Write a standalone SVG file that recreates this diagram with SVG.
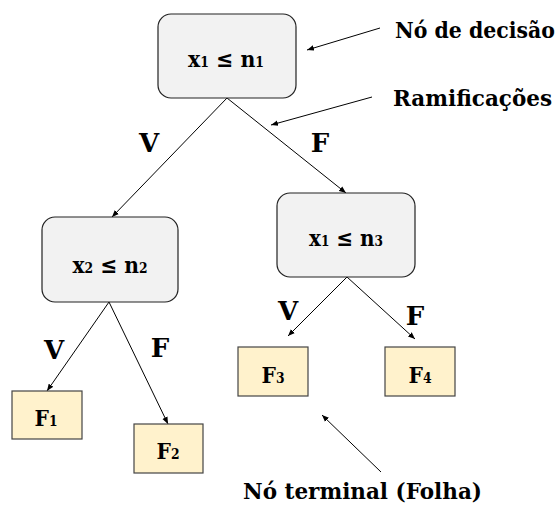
<svg xmlns="http://www.w3.org/2000/svg" width="560" height="511" viewBox="0 0 560 511">
<style>
text{font-family:"DejaVu Serif",serif;font-weight:bold;fill:#000}
.dec{fill:#f2f2f2;stroke:#222;stroke-width:1.2}
.leaf{fill:#fff2cc;stroke:#444;stroke-width:1.2}
.lab{font-size:26px;text-anchor:middle}
.nt{font-size:23px;text-anchor:middle}
.big{font-size:23px}
.sub{font-size:14px}
.edge{stroke:#000;stroke-width:1;fill:none;marker-end:url(#ah)}
</style>
<defs>
<marker id="ah" viewBox="0 0 10 10" refX="10" refY="5" markerWidth="7" markerHeight="7" orient="auto" markerUnits="userSpaceOnUse">
<path d="M0,1 L10,5 L0,9 z" fill="#000"/>
</marker>
</defs>
<rect width="560" height="511" fill="#fff"/>
<g id="connectors">
<line class="edge" x1="227" y1="98" x2="112" y2="217"/>
<line class="edge" x1="227" y1="98" x2="346" y2="193"/>
<line class="edge" x1="109" y1="302" x2="47" y2="391"/>
<line class="edge" x1="109" y1="302" x2="168" y2="424"/>
<line class="edge" x1="347" y1="277" x2="288" y2="336"/>
<line class="edge" x1="347" y1="277" x2="415" y2="339"/>
<line class="edge" x1="380" y1="28" x2="307" y2="50"/>
<line class="edge" x1="372" y1="97" x2="271" y2="125"/>
<line class="edge" x1="381" y1="472" x2="322" y2="415"/>
</g>
<g id="labels">
<text class="lab" x="149" y="152">V</text>
<text class="lab" x="320" y="152">F</text>
<text class="lab" x="288" y="320">V</text>
<text class="lab" x="415" y="325">F</text>
<text class="lab" x="54" y="359">V</text>
<text class="lab" x="160" y="357">F</text>
</g>
<g id="root">
<rect class="dec" x="158" y="14" width="138" height="84" rx="13"/>
<text class="nt" x="226" y="67" textLength="76" lengthAdjust="spacingAndGlyphs">x<tspan class="sub">1</tspan> ≤ n<tspan class="sub">1</tspan></text>
</g>
<g id="node-left">
<rect class="dec" x="42" y="217" width="136" height="85" rx="13"/>
<text class="nt" x="110" y="273" textLength="75" lengthAdjust="spacingAndGlyphs">x<tspan class="sub">2</tspan> ≤ n<tspan class="sub">2</tspan></text>
</g>
<g id="node-right">
<rect class="dec" x="277" y="193" width="138" height="84" rx="13"/>
<text class="nt" x="346" y="246" textLength="74" lengthAdjust="spacingAndGlyphs">x<tspan class="sub">1</tspan> ≤ n<tspan class="sub">3</tspan></text>
</g>
<g id="leaf-f1">
<rect class="leaf" x="12" y="391" width="70" height="48"/>
<text class="nt" x="46" y="426" textLength="23" lengthAdjust="spacingAndGlyphs">F<tspan class="sub">1</tspan></text>
</g>
<g id="leaf-f2">
<rect class="leaf" x="134" y="424" width="69" height="49"/>
<text class="nt" x="168" y="459" textLength="23" lengthAdjust="spacingAndGlyphs">F<tspan class="sub">2</tspan></text>
</g>
<g id="leaf-f3">
<rect class="leaf" x="238" y="347" width="70" height="49"/>
<text class="nt" x="273" y="383" textLength="23" lengthAdjust="spacingAndGlyphs">F<tspan class="sub">3</tspan></text>
</g>
<g id="leaf-f4">
<rect class="leaf" x="385" y="347" width="70" height="49"/>
<text class="nt" x="420" y="383" textLength="23" lengthAdjust="spacingAndGlyphs">F<tspan class="sub">4</tspan></text>
</g>
<g id="annotations">
<text class="big" x="395" y="38" textLength="160" lengthAdjust="spacingAndGlyphs">Nó de decisão</text>
<text class="big" x="393" y="106" textLength="159" lengthAdjust="spacingAndGlyphs">Ramificações</text>
<text class="big" x="243" y="499" textLength="239" lengthAdjust="spacingAndGlyphs">Nó terminal (Folha)</text>
</g>
</svg>
